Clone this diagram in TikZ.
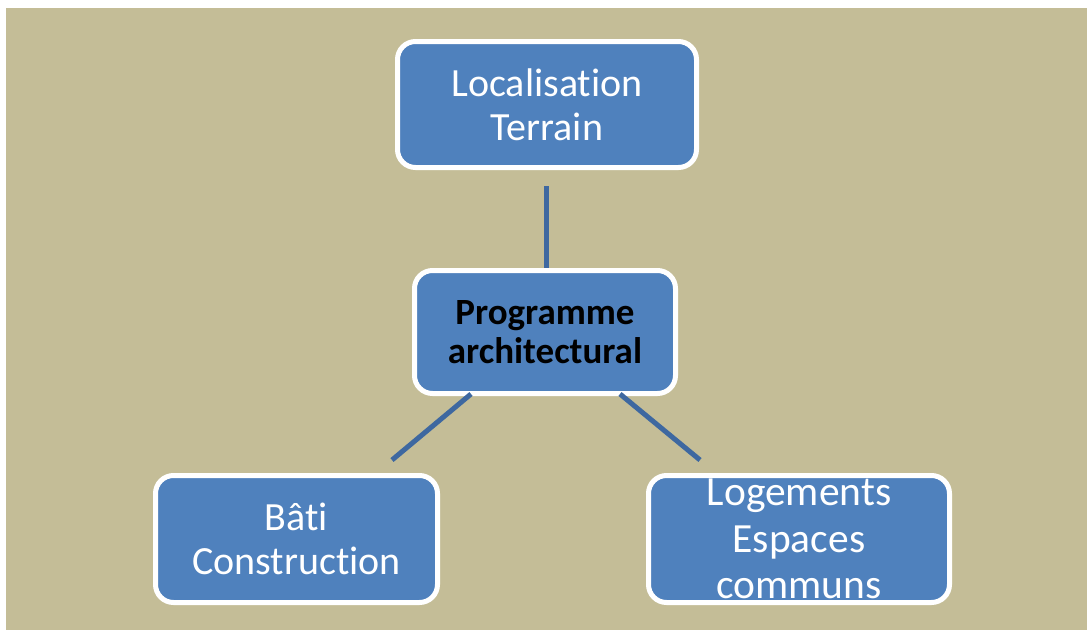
\documentclass[tikz,border=0pt]{standalone}
\usepackage{fontspec}
\setmainfont{Carlito}[Ligatures={NoCommon,NoContextual}]
\usepackage{tikz}
\usetikzlibrary{positioning}
\usepackage{xcolor}
\definecolor{bgtan}{RGB}{196,189,151}
\definecolor{boxblue}{RGB}{79,129,189}
\definecolor{linkblue}{RGB}{62,104,160}
\tikzstyle{link} = [line width=5pt,color=linkblue]
\tikzstyle{topicbox} = [rectangle, rounded corners=18pt, draw=white, line width=5pt, fill=boxblue, text=white, align=center, inner sep=2pt, font=\fontsize{40}{44}\selectfont]

\begin{document}
\begin{tikzpicture}[x=1pt,y=-1pt]
\useasboundingbox (0,0) rectangle (1087,630);
\fill[bgtan] (6,8) rectangle (1087,630);

\node[topicbox, minimum width=261pt, minimum height=123pt, text=black, font=\fontsize{37}{39}\selectfont\bfseries] (prog) at (545,332) {Programme\\architectural};
\node[topicbox, minimum width=299pt, minimum height=126pt, above=98pt of prog, xshift=2pt] (site) {Localisation\\Terrain};
\node[topicbox, minimum width=282pt, minimum height=127pt, below=77pt of prog, xshift=-248.5pt] (bati) {B\^ati\\Construction};
\node[topicbox, minimum width=301pt, minimum height=127pt, inner sep=0pt, below=77pt of prog, xshift=254pt, font=\fontsize{41.5}{46.7}\selectfont] (loge) {Logements\\Espaces\\communs};

\draw[link, shorten <=16pt] ([xshift=-1pt]site.south) -- ([xshift=1pt]prog.north);
\draw[link] ([xshift=-74pt,yshift=2pt]prog.south) -- ([xshift=95.5pt,yshift=13pt]bati.north);
\draw[link] ([xshift=75pt,yshift=2pt]prog.south) -- ([xshift=-99pt,yshift=13pt]loge.north);
\end{tikzpicture}
\end{document}
